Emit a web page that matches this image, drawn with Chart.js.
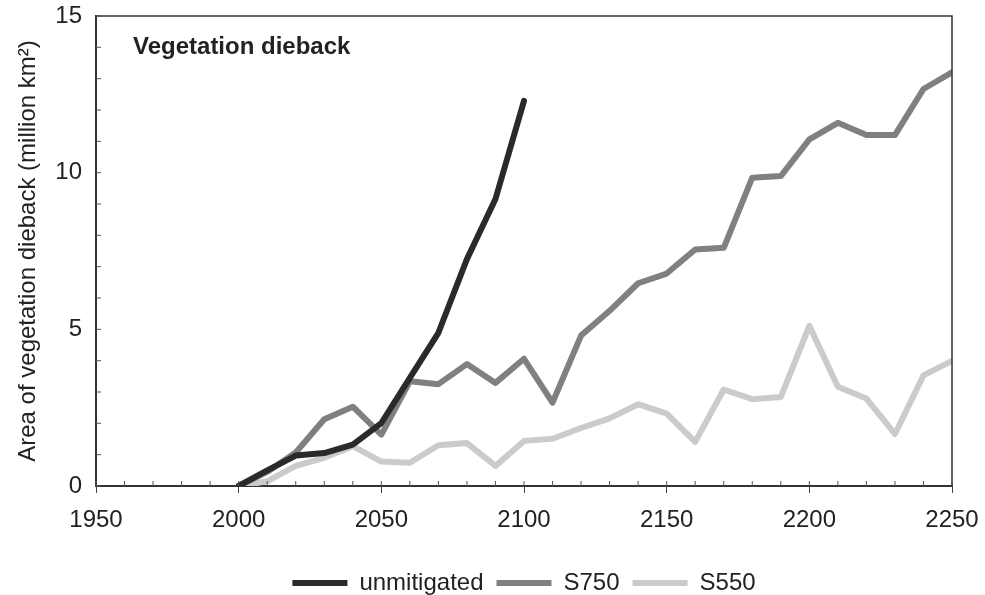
<!DOCTYPE html>
<html>
<head>
<meta charset="utf-8">
<script src="https://cdn.jsdelivr.net/npm/chart.js@4"></script>
<style>
  html, body { margin: 0; padding: 0; background: #fff; }
  #wrap { width: 985px; height: 595px; }
</style>
</head>
<body>
<div id="wrap"><canvas id="c" width="985" height="595"></canvas></div>
<script>
// ---- data ----
const years = [2000, 2010, 2020, 2030, 2040, 2050, 2060, 2070, 2080, 2090, 2100,
               2110, 2120, 2130, 2140, 2150, 2160, 2170, 2180, 2190, 2200,
               2210, 2220, 2230, 2240, 2250];
const unmitigated = [0, 0.5, 0.97, 1.05, 1.32, 2.01, 3.45, 4.89, 7.24, 9.16, 12.29];
const s750 = [0, 0.45, 1.07, 2.13, 2.53, 1.64, 3.34, 3.25, 3.89, 3.29, 4.06,
              2.66, 4.80, 5.59, 6.47, 6.78, 7.55, 7.60, 9.84, 9.89, 11.06,
              11.59, 11.20, 11.20, 12.67, 13.2];
const s550 = [0, 0.15, 0.64, 0.90, 1.27, 0.78, 0.74, 1.30, 1.37, 0.64, 1.44,
              1.51, 1.85, 2.16, 2.61, 2.31, 1.41, 3.08, 2.77, 2.84, 5.11,
              3.17, 2.79, 1.66, 3.53, 3.99];
const seriesNames = ['unmitigated', 'S750', 'S550'];
const xTicks = [1950, 2000, 2050, 2100, 2150, 2200, 2250];
const yTicks = [0, 5, 10, 15];
const chartTitle = 'Vegetation dieback';
const yTitle = 'Area of vegetation dieback (million km\u00B2)';

const toPoints = vals => vals.map((v, i) => ({ x: years[i], y: v }));

const FONT = "'Liberation Sans', Arial, sans-serif";
const TXT = '#222';

const framePlugin = {
  id: 'frame',
  afterDatasetsDraw(chart) {
    const { ctx, chartArea: a, scales } = chart;
    ctx.save();
    ctx.strokeStyle = '#333';
    ctx.lineWidth = 1.5;
    ctx.beginPath();
    ctx.moveTo(a.left, a.top);
    ctx.lineTo(a.right, a.top);
    ctx.lineTo(a.right, a.bottom);
    ctx.stroke();
    ctx.lineWidth = 1;
    ctx.strokeStyle = '#555';
    ctx.beginPath();
    for (let v = 1950; v <= 2250; v += 10) {
      const px = scales.x.getPixelForValue(v);
      ctx.moveTo(px, a.bottom);
      ctx.lineTo(px, a.bottom - 5);
    }
    for (let v = 0; v <= 15; v += 1) {
      const py = scales.y.getPixelForValue(v);
      ctx.moveTo(a.left, py);
      ctx.lineTo(a.left + 5, py);
    }
    ctx.stroke();
    ctx.fillStyle = TXT;
    ctx.font = "bold 24px " + FONT;
    ctx.textBaseline = 'alphabetic';
    ctx.textAlign = 'left';
    ctx.fillText(chartTitle, a.left + 37, 54);
    ctx.restore();
  }
};

const mk = (label, data, color) => ({
  label, data, borderColor: color, backgroundColor: color,
  borderWidth: 6, pointRadius: 0, tension: 0, fill: false,
  borderCapStyle: 'round', borderJoinStyle: 'round'
});

new Chart(document.getElementById('c'), {
  type: 'line',
  data: {
    datasets: [
      mk(seriesNames[0], toPoints(unmitigated), '#2a2a2a'),
      mk(seriesNames[1], toPoints(s750), '#808080'),
      mk(seriesNames[2], toPoints(s550), '#cbcbcb')
    ]
  },
  options: {
    responsive: false,
    animation: false,
    layout: { padding: { top: 16, right: 33, bottom: -10, left: 0 } },
    plugins: {
      legend: {
        position: 'bottom',
        fullSize: false,
        labels: {
          usePointStyle: true,
          pointStyle: 'line',
          pointStyleWidth: 55,
          padding: 13,
          color: TXT,
          font: { family: FONT, size: 24 }
        }
      },
      tooltip: { enabled: false },
      title: { display: false }
    },
    scales: {
      x: {
        type: 'linear',
        min: 1950, max: 2250,
        afterBuildTicks: s => { s.ticks = xTicks.map(v => ({ value: v })); },
        afterFit: s => { s.height = 72; s.paddingRight = 0; s.paddingLeft = 0; },
        grid: { drawOnChartArea: false, drawTicks: true, tickLength: 7, color: '#444', lineWidth: 1 },
        border: { display: true, color: '#333', width: 2 },
        ticks: { color: TXT, font: { family: FONT, size: 24 }, padding: 13, maxRotation: 0,
                 callback: v => String(v) }
      },
      y: {
        type: 'linear',
        min: 0, max: 15,
        afterBuildTicks: s => { s.ticks = yTicks.map(v => ({ value: v })); },
        afterFit: s => { s.width = 96; s.paddingTop = 0; s.paddingBottom = 0; },
        grid: { drawOnChartArea: false, drawTicks: false },
        border: { display: true, color: '#333', width: 2 },
        ticks: { color: TXT, font: { family: FONT, size: 24 }, padding: 14,
                 callback: v => String(v) },
        title: {
          display: true, text: yTitle, color: TXT,
          font: { family: FONT, size: 24 }, padding: { top: 14, bottom: 0 }
        }
      }
    }
  },
  plugins: [framePlugin]
});
</script>
</body>
</html>
